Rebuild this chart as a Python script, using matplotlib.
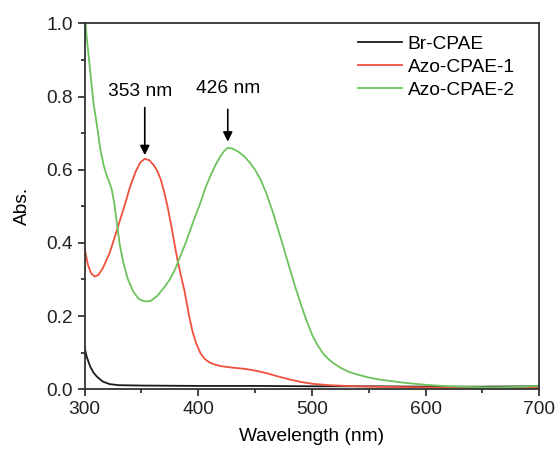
import matplotlib
matplotlib.use("Agg")
import matplotlib.pyplot as plt
from matplotlib.ticker import MultipleLocator

plt.rcParams['font.family'] = ['Liberation Sans', 'DejaVu Sans']

# UV-vis absorption spectra
wl_br = [300, 302, 305, 308, 311, 316, 322, 330, 350, 400, 450, 500, 550, 600, 650, 700]
abs_br = [0.115, 0.088, 0.062, 0.045, 0.034, 0.021, 0.014, 0.011, 0.010, 0.009,
          0.009, 0.008, 0.008, 0.007, 0.007, 0.008]

wl_azo1 = [300, 303, 306, 309, 312, 316, 322, 326, 331, 336, 340, 345, 349, 353,
           357, 361, 364, 367, 370, 373, 376, 379, 382, 385, 388, 392, 395, 398,
           402, 406, 410, 415, 420, 430, 440, 450, 460, 470, 480, 490, 500, 515,
           530, 550, 600, 650, 700]
abs_azo1 = [0.385, 0.340, 0.316, 0.308, 0.312, 0.330, 0.372, 0.410, 0.460, 0.510,
            0.553, 0.595, 0.620, 0.630, 0.626, 0.612, 0.597, 0.574, 0.540, 0.500,
            0.452, 0.400, 0.350, 0.308, 0.268, 0.200, 0.158, 0.127, 0.098, 0.082,
            0.073, 0.067, 0.063, 0.059, 0.056, 0.051, 0.044, 0.035, 0.027, 0.020,
            0.015, 0.011, 0.009, 0.007, 0.005, 0.004, 0.004]

wl_azo2 = [300, 302, 305, 308, 311, 314, 317, 320, 322, 324, 326, 328, 331, 334,
           338, 343, 348, 353, 358, 364, 370, 375, 380, 384, 389, 393, 397, 402,
           406, 410, 415, 419, 423, 426, 430, 435, 440, 445, 450, 455, 460, 465,
           470, 475, 480, 485, 490, 495, 500, 505, 510, 515, 520, 525, 532, 540,
           550, 560, 580, 600, 620, 640, 660, 680, 700]
abs_azo2 = [1.03, 0.96, 0.87, 0.78, 0.72, 0.655, 0.610, 0.580, 0.565, 0.545, 0.512,
            0.465, 0.395, 0.348, 0.302, 0.266, 0.246, 0.240, 0.241, 0.255, 0.278,
            0.300, 0.330, 0.362, 0.400, 0.435, 0.470, 0.510, 0.548, 0.578, 0.612,
            0.634, 0.652, 0.660, 0.658, 0.650, 0.638, 0.621, 0.600, 0.572, 0.535,
            0.490, 0.440, 0.388, 0.335, 0.283, 0.235, 0.190, 0.150, 0.120, 0.097,
            0.081, 0.069, 0.059, 0.048, 0.040, 0.032, 0.026, 0.018, 0.012, 0.008,
            0.006, 0.005, 0.006, 0.009]

series_labels = ['Br-CPAE', 'Azo-CPAE-1', 'Azo-CPAE-2']
series_colors = ['#1a1a1a', '#f0503c', '#6cc35c']

peak_labels = ['353 nm', '426 nm']
peak_wl = [353, 426]
peak_abs = [0.630, 0.660]

FS = 13.8

fig = plt.figure(figsize=(5.56, 4.51), dpi=100)
ax = fig.add_axes([0.152, 0.137, 0.818, 0.811])

for wl, ab, lab, col in zip([wl_br, wl_azo1, wl_azo2],
                            [abs_br, abs_azo1, abs_azo2],
                            series_labels, series_colors):
    ax.plot(wl, ab, color=col, lw=1.3, label=lab)

ax.set_xlim(300, 700)
ax.set_ylim(0, 1.0)
ax.xaxis.set_major_locator(MultipleLocator(100))
ax.xaxis.set_minor_locator(MultipleLocator(50))
ax.yaxis.set_major_locator(MultipleLocator(0.2))
ax.yaxis.set_minor_locator(MultipleLocator(0.1))
ax.yaxis.set_major_formatter(plt.FuncFormatter(lambda v, p: f"{v:.1f}"))
ax.tick_params(which='both', direction='out', width=1.2, labelsize=FS,
               colors='#222222')
ax.tick_params(which='major', length=5)
ax.tick_params(which='minor', length=3)
for s in ax.spines.values():
    s.set_linewidth(1.3)
    s.set_color('#333333')

ax.set_xlabel('Wavelength (nm)', fontsize=FS, labelpad=7)
ax.set_ylabel('Abs.', fontsize=FS, labelpad=11)

# Peak markers
text_offsets = [0.183, 0.163]
arrow_tops = [0.77, 0.765]
arrow_gaps = [0.01, 0.017]
for lab, x, y, off, top, gap in zip(peak_labels, peak_wl, peak_abs,
                                    text_offsets, arrow_tops, arrow_gaps):
    ax.annotate('', xy=(x, y + gap), xytext=(x, top),
                arrowprops=dict(arrowstyle='-|>', color='black', lw=1.2,
                                mutation_scale=14, shrinkA=0, shrinkB=0))
    ax.text(x - 4 if x < 400 else x, y + off, lab, ha='center', va='center',
            fontsize=FS)

leg = ax.legend(loc='upper left', bbox_to_anchor=(0.601, 0.968), frameon=False,
                fontsize=FS, handlelength=2.3, handletextpad=0.3,
                labelspacing=0.3, borderaxespad=0, borderpad=0)

fig.savefig('out.png', dpi=100)
